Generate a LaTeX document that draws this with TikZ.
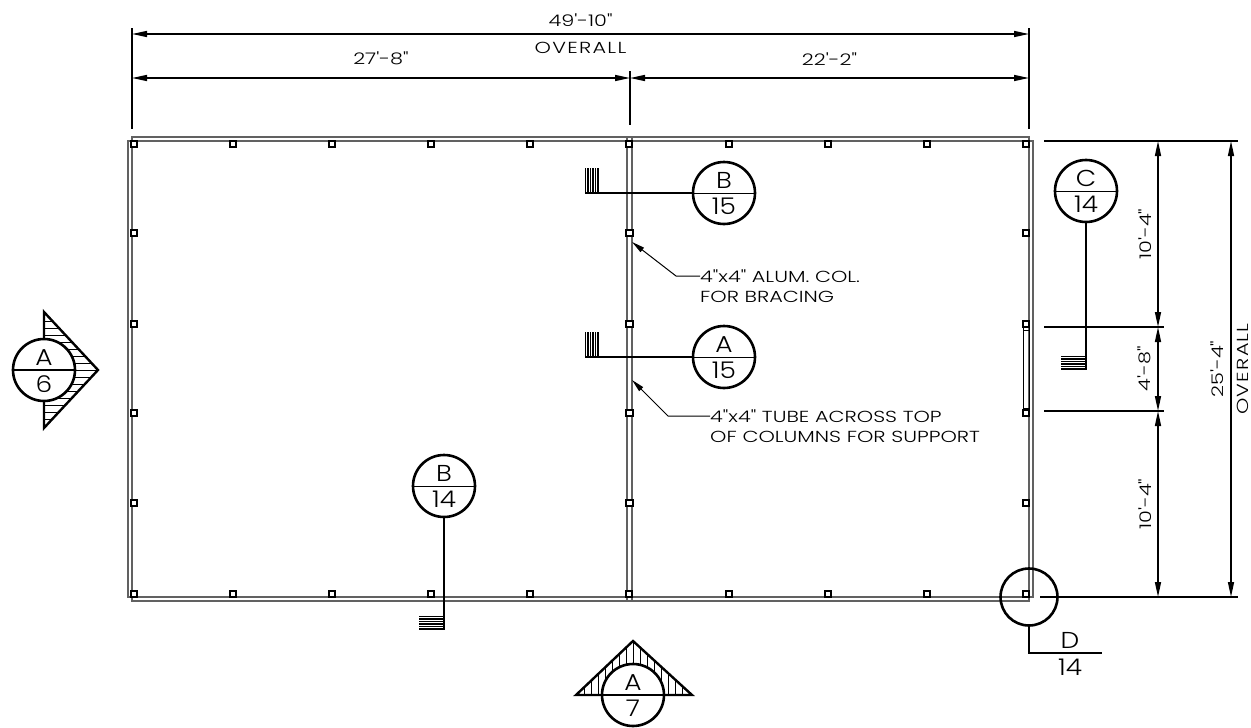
\documentclass[tikz,border=0pt]{standalone}
\usepackage{fontspec}
\usepackage{tikz}
\usetikzlibrary{positioning,arrows.meta}
\newfontfamily\cadfont[UprightFont=* Light,FakeStretch=1.3]{Poppins}
\newfontfamily\cadbubble[UprightFont=* Light,FakeStretch=1.15]{Poppins}

\begin{document}
\begin{tikzpicture}
    [x=1pt,y=-1pt,
     wall/.style={draw=black!62,line width=1.3pt},
     post/.style={rectangle,draw=black,line width=1.9pt,fill=white,minimum size=6.2pt,inner sep=0pt},
     bubble/.style={circle,draw=black,line width=2.6pt,fill=white,minimum size=62pt,inner sep=0pt},
     bubbletext/.style={inner sep=0pt,font=\cadbubble\fontsize{23}{23}\selectfont},
     divider/.style={line width=1pt},
     heavy/.style={line width=2.4pt},
     cut/.style={line width=2.4pt},
     flag/.style={line width=1.4pt},
     hatch/.style={line width=0.8pt},
     extline/.style={line width=1.5pt},
     dimline/.style={line width=1.5pt,{Triangle[length=15pt,width=6pt]}-{Triangle[length=15pt,width=6pt]}},
     leader/.style={line width=1pt,-{Triangle[length=13pt,width=5.5pt]}},
     dimtext/.style={inner sep=0pt,font=\cadfont\fontsize{16}{16}\selectfont},
     overalltext/.style={inner sep=0pt,font=\cadfont\addfontfeature{LetterSpace=8}\fontsize{16}{16}\selectfont},
     note/.style={inner sep=0pt,anchor=west,font=\cadfont\fontsize{16}{16}\selectfont}]

    \useasboundingbox (0,0) rectangle (1251,728);

    % plan outline, door and centre wall
    \draw[wall] (128,141) rectangle (1033,597);
    \draw[wall] (132,137) rectangle (1029,601);
    \draw[wall] (627,137) -- (627,601);
    \draw[wall] (632,137) -- (632,601);
    \draw[line width=1pt] (1023,327) rectangle (1029,411);
    \draw[line width=1pt] (1023,330) -- (1029,330);
    \draw[line width=1pt] (1023,408) -- (1029,408);

    % columns
    \foreach \x in {134,233,332,431,530,629,729,828,927,1026} {
      \node[post] (posttop\x) at (\x,144) {};
      \node[post] (postbottom\x) at (\x,594) {};
    }
    \foreach \y in {233,324,413,503} {
      \node[post] (postleft\y) at (134,\y) {};
      \node[post] (postmiddle\y) at (629.5,\y) {};
      \node[post] (postright\y) at (1026,\y) {};
    }

    % overall and partial widths
    \coordinate (widthleft) at (132,34);
    \coordinate (widthright) at (1029,34);
    \coordinate (partleft) at (132,78);
    \coordinate (partmiddle) at (630,78);
    \coordinate (partright) at (1029,78);
    \draw[extline] (132,28) -- (132,129);
    \draw[extline] (630,71) -- (630,125);
    \draw[extline] (1029,28) -- (1029,129);
    \draw[dimline] (widthleft) -- node (widthtext) [dimtext,above=7pt] {49'-10"}
      node (widthoverall) [overalltext,below=7pt] {OVERALL} (widthright);
    \draw[dimline] (partleft) -- node (leftpart) [dimtext,above=12pt] {27'-8"} (partmiddle);
    \draw[dimline] (partmiddle) -- node (rightpart) [dimtext,above=12pt] {22'-2"} (partright);

    % heights on the right
    \coordinate (heighttop) at (1158,141);
    \coordinate (heightdoor) at (1158,327);
    \coordinate (heightsill) at (1158,411);
    \coordinate (heightbottom) at (1158,597);
    \coordinate (overalltop) at (1231,141);
    \coordinate (overallbottom) at (1231,597);
    \draw[extline] (1044,141) -- (1238,141);
    \draw[extline] (1044,327) -- (1164,327);
    \draw[extline] (1044,411) -- (1164,411);
    \draw[extline] (1040,597) -- (1238,597);
    \draw[dimline] (heighttop) -- node (upperheight) [dimtext,rotate=90,left=6pt,anchor=south] {10'-4"} (heightdoor);
    \draw[dimline] (heightdoor) -- node (doorheight) [dimtext,rotate=90,left=6pt,anchor=south] {4'-8"} (heightsill);
    \draw[dimline] (heightsill) -- node (lowerheight) [dimtext,rotate=90,left=6pt,anchor=south] {10'-4"} (heightbottom);
    \draw[dimline] (overalltop) -- node (overallheight) [dimtext,rotate=90,left=7pt,anchor=south] {25'-4"}
      node (overallword) [overalltext,rotate=90,right=5pt,anchor=north] {OVERALL} (overallbottom);

    % section A/6
    \coordinate (asixupper) at (44,312);
    \coordinate (asixlower) at (44,428);
    \coordinate (asixtip) at (98,370);
    \begin{scope}
      \clip (asixupper) -- (asixtip) -- (asixlower) -- cycle;
      \foreach \y in {314,321,...,426} \draw[hatch] (44,\y) -- (98,\y);
    \end{scope}
    \draw[heavy,line join=miter] (asixupper) -- (asixtip) -- (asixlower) -- cycle;
    \node[bubble] (asix) at (44,370) {};
    \draw[heavy] (asix.west) -- (asix.east);
    \node[bubbletext] (asixtop) [above=4pt of asix.center] {A};
    \node[bubbletext] (asixbottom) [below=5pt of asix.center] {6};

    % section A/7
    \coordinate (asevenleft) at (576,695);
    \coordinate (asevenright) at (692,695);
    \coordinate (aseventip) at (633,641);
    \begin{scope}
      \clip (asevenleft) -- (aseventip) -- (asevenright) -- cycle;
      \foreach \x in {577,584,...,690} \draw[hatch] (\x,641) -- (\x,695);
    \end{scope}
    \draw[heavy,line join=miter] (asevenleft) -- (aseventip) -- (asevenright) -- cycle;
    \node[bubble] (aseven) at (633,695) {};
    \draw[heavy] (aseven.west) -- (aseven.east);
    \node[bubbletext] (aseventop) [above=4pt of aseven.center] {A};
    \node[bubbletext] (asevenbottom) [below=5pt of aseven.center] {7};

    % section B/15
    \foreach \x in {585.5,588,...,598} \draw[flag] (\x,168) -- (\x,193);
    \coordinate (bfifteenflag) at (585,193);
    \node[bubble] (bfifteen) at (724,193) {};
    \draw[cut] (bfifteen) -- (bfifteenflag);
    \draw[divider] (bfifteen.west) -- (bfifteen.east);
    \node[bubbletext] (bfifteentop) [above=4pt of bfifteen.center] {B};
    \node[bubbletext] (bfifteenbottom) [below=5pt of bfifteen.center] {15};

    % section A/15
    \foreach \x in {585.5,588,...,598} \draw[flag] (\x,332) -- (\x,357);
    \coordinate (afifteenflag) at (585,357);
    \node[bubble] (afifteen) at (724,357) {};
    \draw[cut] (afifteen) -- (afifteenflag);
    \draw[divider] (afifteen.west) -- (afifteen.east);
    \node[bubbletext] (afifteentop) [above=4pt of afifteen.center] {A};
    \node[bubbletext] (afifteenbottom) [below=5pt of afifteen.center] {15};

    % section B/14
    \foreach \y in {616.5,619,...,629} \draw[flag] (419,\y) -- (444,\y);
    \coordinate (bfourteenflag) at (444,630);
    \node[bubble] (bfourteen) at (444,486) {};
    \draw[cut] (bfourteen) -- (bfourteenflag);
    \draw[divider] (bfourteen.west) -- (bfourteen.east);
    \node[bubbletext] (bfourteentop) [above=4pt of bfourteen.center] {B};
    \node[bubbletext] (bfourteenbottom) [below=5pt of bfourteen.center] {14};

    % section C/14
    \foreach \y in {356.5,359,...,369} \draw[flag] (1061,\y) -- (1087,\y);
    \coordinate (cfourteenflag) at (1086,369);
    \node[bubble] (cfourteen) at (1086,191) {};
    \draw[cut] (cfourteen) -- (cfourteenflag);
    \draw[divider] (cfourteen.west) -- (cfourteen.east);
    \node[bubbletext] (cfourteentop) [above=4pt of cfourteen.center] {C};
    \node[bubbletext] (cfourteenbottom) [below=5pt of cfourteen.center] {14};

    % detail D/14
    \node[circle,draw=black,line width=2.6pt,minimum size=57pt,inner sep=0pt] (dfourteen) at (1029,597) {};
    \coordinate (delbow) at (1029,653);
    \coordinate (dend) at (1102,653);
    \draw[cut] (dfourteen.south) -- (delbow) -- (dend);
    \node[bubbletext] (dfourteentop) at (1070,640) {D};
    \node[bubbletext] (dfourteenbottom) at (1070,667) {14};

    % notes
    \coordinate (bracingtip) at (632,242);
    \coordinate (bracingelbow) at (676,276);
    \node[note] (bracingone) at (700,276) {4"x4" ALUM. COL.};
    \node[note] (bracingtwo) [below=8pt of bracingone.south west,anchor=north west] {FOR BRACING};
    \draw[leader] (bracingone.west) -- (bracingelbow) -- (bracingtip);

    \coordinate (tubetip) at (632,380);
    \coordinate (tubeelbow) at (668,416);
    \node[note] (tubeone) at (710,416) {4"x4" TUBE ACROSS TOP};
    \node[note] (tubetwo) [below=8pt of tubeone.south west,anchor=north west] {OF COLUMNS FOR SUPPORT};
    \draw[leader] (tubeone.west) -- (tubeelbow) -- (tubetip);
  \end{tikzpicture}
\end{document}
